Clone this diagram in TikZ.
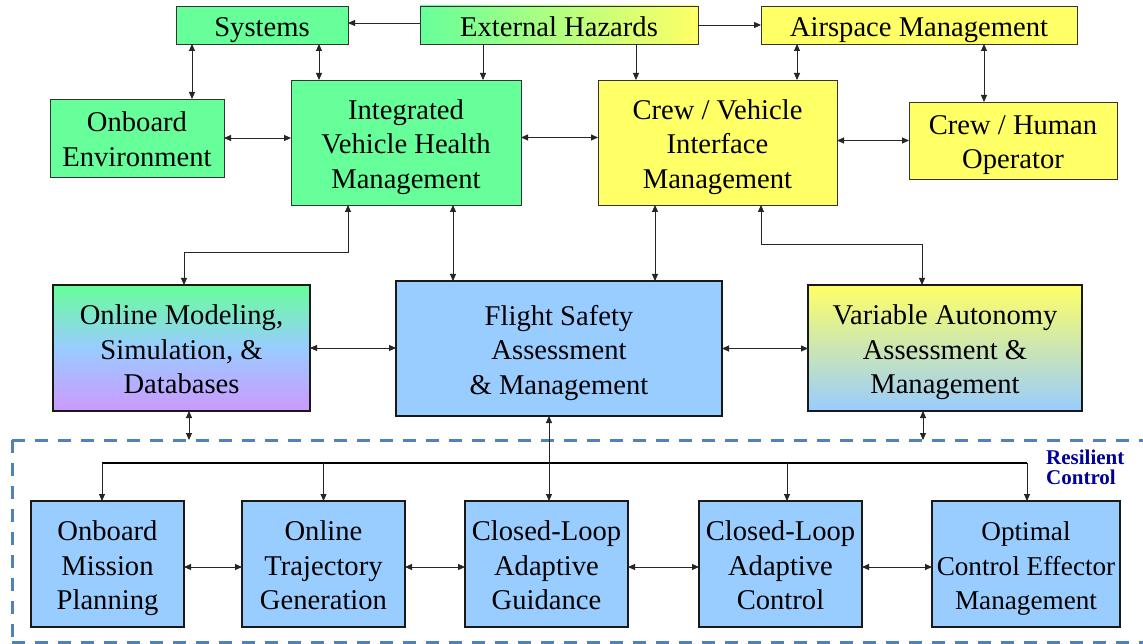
\documentclass[tikz,border=0pt]{standalone}
\usepackage{fontspec}
\setmainfont{Liberation Serif}
\usetikzlibrary{arrows.meta,calc}
\definecolor{gr}{HTML}{66FF99}
\definecolor{ye}{HTML}{FFFF66}
\definecolor{bl}{HTML}{99CCFF}
\definecolor{vi}{HTML}{CC99FF}
\definecolor{dashblue}{HTML}{4F81BD}
\definecolor{rcblue}{HTML}{000099}
\newcommand\blk[7]{\node[#6, minimum width={#4pt-#2pt}, minimum height={#5pt-#3pt}] (#1) at ({(#2+#4)/2},{(#3+#5)/2}) {\rule{0pt}{28.5pt}#7\rule[-6pt]{0pt}{0pt}};}
\tikzset{
  box/.style={draw, inner sep=0pt, outer sep=0pt, align=center,
    font=\fontsize{28.6}{34.5}\selectfont},
  topbox/.style={box, draw=black!80, line width=0.9pt},
  midbox/.style={box, draw=black!90, line width=1.7pt},
  tip/.tip={Triangle[length=7pt,width=6pt]},
  arr/.style={-tip, line width=0.9pt, draw=black!85},
  dbl/.style={tip-tip, line width=0.9pt, draw=black!85},
  busline/.style={line width=1.5pt, draw=black},
  rcline/.style={draw=dashblue, line width=3pt, dash pattern=on 13pt off 10pt}
}
\begin{document}
\begin{tikzpicture}[x=1pt,y=-1pt]
\fill[white] (0,0) rectangle (1143,644);
\useasboundingbox (0,0) rectangle (1143,644);
% top row
\blk{sys}{176}{6}{348}{44}{topbox, fill=gr}{Systems}
\blk{ext}{420}{6}{698}{44}{topbox, left color=gr, right color=ye}{External Hazards}
\blk{air}{761}{6}{1077}{44}{topbox, fill=ye}{Airspace Management}
\blk{env}{50}{99}{224}{177}{topbox, fill=gr}{Onboard\\Environment}
\blk{ivhm}{291}{80}{521}{205}{topbox, fill=gr}{Integrated\\Vehicle Health\\Management}
\blk{cvim}{598}{80}{837}{205}{topbox, fill=ye}{Crew / Vehicle\\Interface\\Management}
\blk{crew}{909}{102}{1117}{179}{topbox, fill=ye}{Crew / Human\\Operator}
% middle row
\blk{om}{53}{285}{310}{411}{midbox, top color=gr, bottom color=vi, middle color=bl}{Online Modeling,\\Simulation, \&\\Databases}
\blk{fsam}{396}{281}{722}{416}{midbox, fill=bl}{Flight Safety\\Assessment\\\& Management}
\blk{vaam}{808}{285}{1082}{411}{midbox, top color=ye, bottom color=bl}{Variable Autonomy\\Assessment \&\\Management}
% bottom row
\blk{omp}{31}{501}{184}{627}{midbox, fill=bl}{Onboard\\Mission\\Planning}
\blk{otg}{242}{501}{405}{627}{midbox, fill=bl}{Online\\Trajectory\\Generation}
\blk{clag}{465}{501}{628}{627}{midbox, fill=bl}{Closed-Loop\\Adaptive\\Guidance}
\blk{clac}{699}{501}{862}{627}{midbox, fill=bl}{Closed-Loop\\Adaptive\\Control}
\blk{ocem}{932}{501}{1120}{627}{midbox, fill=bl, font=\fontsize{27.2}{34.5}\selectfont}{Optimal\\Control Effector\\Management}
% resilient control region
\draw[rcline] (12,440) -- (1143,440);
\draw[rcline] (12,440) -- (12,642);
\draw[rcline] (12,642) -- (1143,642);
\coordinate (rcTop) at (0,440);
\node[font=\fontsize{21}{19.5}\selectfont\bfseries, text=rcblue, align=left, anchor=north west, inner sep=0pt] (rc) at (1046,450) {Resilient\\Control};
% top connectors
\draw[arr] ([yshift=2pt]ext.west) -- ([yshift=2pt]ext.west -| sys.east);
\draw[arr] (ext.east) -- (air.west);
\draw[dbl] ([xshift=16pt]sys.south west) -- ([xshift=16pt]sys.south west |- env.north);
\draw[dbl] ([xshift=143pt]sys.south west) -- ([xshift=143pt]sys.south west |- ivhm.north);
\draw[arr] ([xshift=63pt]ext.south west) -- ([xshift=63pt]ext.south west |- ivhm.north);
\draw[arr] ([xshift=216pt]ext.south west) -- ([xshift=216pt]ext.south west |- cvim.north);
\draw[dbl] ([xshift=36pt]air.south west) -- ([xshift=36pt]air.south west |- cvim.north);
\draw[dbl] ([xshift=223pt]air.south west) -- ([xshift=223pt]air.south west |- crew.north);
\draw[dbl] (env.east) -- (env.east -| ivhm.west);
\draw[dbl] ([yshift=5pt]ivhm.east) -- ([yshift=5pt]ivhm.east -| cvim.west);
\draw[dbl] (crew.west -| cvim.east) -- (crew.west);
% middle connectors
\draw[dbl] ([xshift=131pt]om.north west) -- ++(0,-33) -| ([xshift=57pt]ivhm.south west);
\draw[dbl] ([xshift=114pt]vaam.north west) -- ++(0,-41) -| ([xshift=163pt]cvim.south west);
\draw[dbl] ([xshift=162pt]ivhm.south west) -- ([xshift=162pt]ivhm.south west |- fsam.north);
\draw[dbl] ([xshift=57pt]cvim.south west) -- ([xshift=57pt]cvim.south west |- fsam.north);
\draw[dbl] (om.east) -- (om.east -| fsam.west);
\draw[dbl] (fsam.east) -- (fsam.east -| vaam.west);
\draw[dbl] ([xshift=136pt]om.south west) -- ([xshift=136pt]om.south west |- rcTop);
\draw[dbl] ([xshift=115pt]vaam.south west) -- ([xshift=115pt]vaam.south west |- rcTop);
% bus
\coordinate (busL) at (102,463);
\coordinate (busR) at (1027,463);
\draw[busline] (busL) -- (busR);
\draw[arr] (busL) -- (busL |- omp.north);
\draw[arr] (otg.north |- busL) -- (otg.north);
\draw[arr] ([xshift=88pt]clac.north west |- busL) -- ([xshift=88pt]clac.north west);
\draw[arr] (busR) -- (busR |- ocem.north);
\draw[dbl] ([xshift=153pt]fsam.south west) -- ([xshift=153pt]fsam.south west |- clag.north);
% bottom connectors
\draw[dbl] ([yshift=-3pt]omp.east) -- ([yshift=-3pt]omp.east -| otg.west);
\draw[dbl] ([yshift=-3pt]otg.east) -- ([yshift=-3pt]otg.east -| clag.west);
\draw[dbl] ([yshift=-3pt]clag.east) -- ([yshift=-3pt]clag.east -| clac.west);
\draw[dbl] ([yshift=-3pt]clac.east) -- ([yshift=-3pt]clac.east -| ocem.west);
\end{tikzpicture}
\end{document}
